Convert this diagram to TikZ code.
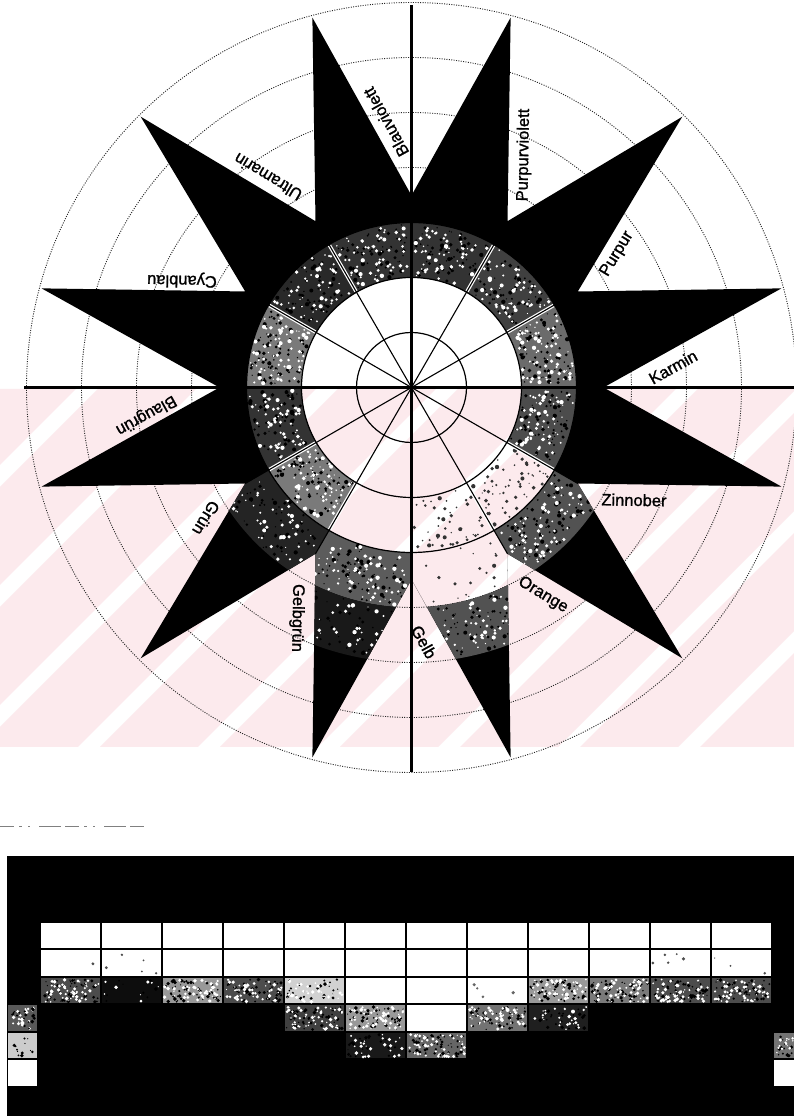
\documentclass[tikz,border=0pt]{standalone}
\usepackage{fontspec}
\setmainfont{Liberation Sans}
\newfontfamily\labfont{Liberation Sans}[FakeBold=1.2]
\definecolor{wmpink}{RGB}{252,234,237}
\newcommand\annsec[5]{\fill[#5] (#3:#1) arc[start angle=#3,end angle=#4,radius=#1] -- (#4:#2) arc[start angle=#4,end angle=#3,radius=#2] -- cycle;}
\newcommand\specks[6]{\foreach \i in {1,...,#5}{%
  \pgfmathsetmacro\sr{100*sqrt(((#1)/100)^2+rnd*(((#2)/100)^2-((#1)/100)^2))}%
  \pgfmathsetmacro\sa{(#3)+rnd*((#4)-(#3))}%
  \pgfmathsetmacro\sz{0.6+1.6*rnd}%
  \fill[#6] (\sa:\sr) circle (\sz);}}
\newcommand\texsec[6]{\annsec{#1}{#2}{#3}{#4}{black!#5}%
  \specks{#1+2}{#2-2}{#3+1.5}{#4-1.5}{#6}{black}%
  \specks{#1+2}{#2-2}{#3+1.5}{#4-1.5}{#6}{white}}
\newcommand\tspeck[6]{\foreach \i in {1,...,#5}{%
  \pgfmathsetmacro\sx{(#1)+rnd*((#3)-(#1))}%
  \pgfmathsetmacro\sy{(#2)+rnd*((#4)-(#2))}%
  \pgfmathsetmacro\sz{0.6+1.4*rnd}%
  \fill[#6] (\sx,\sy) circle (\sz);}}
% textured table cell: column, row, black percent, specks
\newcommand\tcell[4]{%
  \pgfmathsetmacro\cxa{41+61*((#1)-1)}\pgfmathsetmacro\cxb{39+61*(#1)}%
  \pgfmathsetmacro\cya{170.5-27.5*((#2)-1)}\pgfmathsetmacro\cyb{196-27.5*((#2)-1)}%
  \fill[black!#3] (\cxa,\cya) rectangle (\cxb,\cyb);%
  \tspeck{\cxa+1.5}{\cya+1.5}{\cxb-1.5}{\cyb-1.5}{#4}{black}%
  \tspeck{\cxa+1.5}{\cya+1.5}{\cxb-1.5}{\cyb-1.5}{#4}{white}}
\begin{document}
\begin{tikzpicture}[x=1pt,y=1pt,
  lab/.style={font=\labfont\fontsize{16.5}{18}\selectfont, inner sep=0pt, text=black},
  dotc/.style={line width=0.9pt, dash pattern=on 1pt off 1.4pt, black!85},
  solidc/.style={line width=1.2pt, black},
  axisline/.style={line width=3pt, black},
  radline/.style={line width=1.1pt, black},
  gapline/.style={line width=3.5pt, white},
  wmstripe/.style={fill=wmpink, draw=none}]
\pgfmathsetseed{7}
\useasboundingbox (0,0) rectangle (794,1119);
\fill[white] (0,0) rectangle (794,1119);
% watermark tint (lower half)
\begin{scope}
  \clip (0,372) rectangle (794,730);
  \foreach \n in {-5,...,6}
    \fill[wmstripe] ({220+120*\n},372) -- ({318+120*\n},372) -- ({676+120*\n},730) -- ({578+120*\n},730) -- cycle;
\end{scope}
\coordinate (O) at (411.5,731.5);
% ---------- colour star ----------
\begin{scope}[shift={(411.5,731.5)}]
  \foreach \r in {220,275,330,385} \draw[dotc] (0,0) circle (\r);
  % black star with the light lower parts left open (even-odd holes)
  \fill[black, even odd rule] (0:192) \foreach \k in {0,...,11}{ -- ({15+30*\k}:383) -- ({30+30*\k}:192)} -- cycle
    (180:110) arc[start angle=180,end angle=360,radius=110] -- cycle
    (240:110) arc[start angle=240,end angle=330,radius=110] -- (330:165) arc[start angle=330,end angle=240,radius=165] -- cycle
    (270:165) arc[start angle=270,end angle=300,radius=165] -- (300:192) -- (296:220) arc[start angle=296,end angle=274,radius=220] -- (270:192) -- cycle;
  \fill[white] (0:110) arc[start angle=0,end angle=180,radius=110] -- cycle;
  % band 3
  \texsec{110}{165}{0}{30}{58}{70}
  \texsec{110}{165}{30}{60}{75}{60}
  \texsec{110}{165}{60}{90}{80}{60}
  \texsec{110}{165}{90}{120}{80}{60}
  \texsec{110}{165}{120}{150}{84}{55}
  \texsec{110}{165}{150}{180}{52}{75}
  \texsec{110}{165}{180}{210}{80}{60}
  \texsec{110}{165}{210}{240}{52}{75}
  \specks{112}{163}{271}{299}{45}{black!80}
  \specks{112}{163}{301}{329}{60}{black!80}
  \texsec{110}{165}{330}{360}{70}{65}
  \begin{scope}
    \clip (0:192) \foreach \k in {0,...,11}{ -- ({15+30*\k}:383) -- ({30+30*\k}:192)} -- cycle;
    \texsec{165}{220}{210}{240}{86}{50}
    \texsec{165}{220}{240}{270}{64}{75}
    \specks{167}{218}{273}{297}{18}{black!80}
    \texsec{165}{220}{300}{330}{68}{75}
    \texsec{220}{275}{240}{270}{90}{40}
    \texsec{220}{275}{270}{300}{68}{75}
  \end{scope}
  \foreach \a in {30,60,120,150,210,240,300,330} \draw[gapline] (\a:111) -- (\a:164);
  \foreach \a in {30,60,120,150,210,240,300,330} \draw[radline] (0,0) -- (\a:192);
  \draw[solidc] (0,0) circle (55);
  \draw[solidc] (0,0) circle (110);
  \draw[solidc] (0,0) circle (165);
\end{scope}
% axes
\coordinate (hl) at (24,731.5);
\coordinate (hr) at (794,731.5);
\coordinate (vt) at (411.5,1114);
\coordinate (vb) at (411.5,347);
\draw[axisline] (hl) -- (hr);
\draw[axisline] (vt) -- (vb);
% labels
\node[lab, rotate=29]  (lkarmin) at (673,752) {Karmin};
\node[lab, rotate=59]  (lpurpur) at (617,865) {Purpur};
\node[lab, rotate=89]  (lpurpurviolett) at (524,964) {Purpurviolett};
\node[lab, rotate=119] (lblauviolett) at (386,997) {Blauviolett};
\node[lab, rotate=149] (lultramarin) at (268,942) {Ultramarin};
\node[lab, rotate=179] (lcyanblau) at (182,839) {Cyanblau};
\node[lab, rotate=209] (lblaugruen) at (146,704) {Blaugrün};
\node[lab, rotate=239] (lgruen) at (206,601) {Grün};
\node[lab, rotate=269] (lgelbgruen) at (297,501) {Gelbgrün};
\node[lab, rotate=299] (lgelb) at (424,477) {Gelb};
\node[lab, rotate=329] (lorange) at (543,524) {Orange};
\node[lab, rotate=359] (lzinnober) at (634,619) {Zinnober};
% ---------- table ----------
\coordinate (dl1) at (0,292);
\coordinate (dl2) at (148,292);
\draw[black!50, line width=1pt, dash pattern=on 14pt off 5pt on 3pt off 6pt on 2pt off 9pt on 22pt off 4pt] (dl1) -- (dl2);
\fill[black] (7,3) rectangle (794,263);
\foreach \row in {1,2,3} \foreach \c in {1,...,12}
  \fill[white] ({41+61*(\c-1)},{196-27.5*(\row-1)}) rectangle ({39+61*\c},{170.5-27.5*(\row-1)});
\fill[white] ({41+61*6},{196-27.5*3}) rectangle ({39+61*7},{170.5-27.5*3});
\tspeck{43}{145}{160}{166}{6}{black!70}
\tspeck{650}{145}{768}{166}{8}{black!70}
% row 3
\tcell{1}{3}{70}{50}
\tcell{2}{3}{95}{8}
\tcell{3}{3}{40}{50}
\tcell{4}{3}{70}{50}
\tcell{5}{3}{18}{30}
\tspeck{469}{119}{525}{139}{4}{black!60}
\tcell{9}{3}{40}{50}
\tcell{10}{3}{52}{50}
\tcell{11}{3}{70}{50}
\tcell{12}{3}{70}{50}
% row 4
\tcell{5}{4}{75}{50}
\tcell{6}{4}{40}{50}
\tcell{8}{4}{55}{50}
\tcell{9}{4}{88}{25}
% row 5
\tcell{6}{5}{90}{25}
\tcell{7}{5}{60}{50}
% partial columns at both ends
\fill[black!65] (8,{196-27.5*3}) rectangle (37,{170.5-27.5*3});
\tspeck{10}{90}{35}{111}{20}{white}
\tspeck{10}{90}{35}{111}{20}{black}
\fill[black!20] (8,{196-27.5*4}) rectangle (37,{170.5-27.5*4});
\tspeck{10}{62}{35}{83}{12}{black}
\fill[white]    (8,{196-27.5*5}) rectangle (37,{170.5-27.5*5});
\fill[black!55] (774,{196-27.5*4}) rectangle (795,{170.5-27.5*4});
\tspeck{776}{62}{793}{83}{15}{black}
\tspeck{776}{62}{793}{83}{15}{white}
\fill[white]    (774,{196-27.5*5}) rectangle (795,{170.5-27.5*5});
\end{tikzpicture}
\end{document}
